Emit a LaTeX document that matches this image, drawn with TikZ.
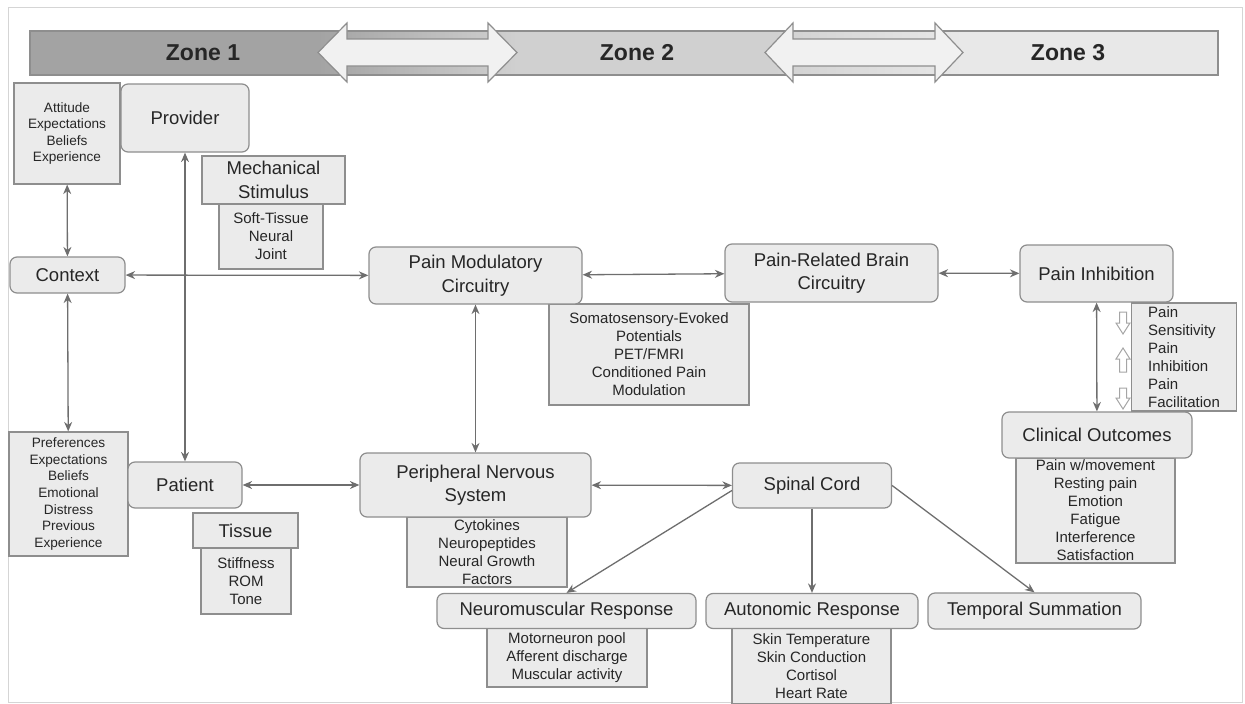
\documentclass[tikz,border=0pt]{standalone}
\usepackage{fontspec}
\setmainfont{Liberation Sans}
\usetikzlibrary{arrows.meta}
\definecolor{boxfill}{HTML}{EBEBEB}
\definecolor{bordergray}{HTML}{8E8E8E}
\definecolor{txt}{HTML}{262626}
\definecolor{linegray}{HTML}{6E6E6E}
\definecolor{zoneA}{HTML}{A3A3A3}
\definecolor{zoneB}{HTML}{D0D0D0}
\definecolor{zoneC}{HTML}{E8E8E8}
\definecolor{framegray}{HTML}{D5D5D5}
\begin{document}
\begin{tikzpicture}[x=1pt,y=-1pt,
  mainbox/.style={draw=bordergray, fill=boxfill, rounded corners=7pt, line width=1.2pt, inner sep=0pt, align=center, text=txt, font=\fontsize{18.5}{23.5}\selectfont},
  listbox/.style={draw=bordergray, fill=boxfill, line width=1.2pt, inner sep=0pt, align=center, text=txt, font=\fontsize{15}{18}\selectfont},
  smallbox/.style={listbox, font=\fontsize{13.6}{16.6}\selectfont},
  headbox/.style={listbox, font=\fontsize{18.5}{23.5}\selectfont},
  conn/.style={draw=linegray, line width=1.3pt, {Stealth[length=9.5pt,width=8pt]}-{Stealth[length=9.5pt,width=8pt]}},
  connone/.style={draw=linegray, line width=1.3pt, -{Stealth[length=9.5pt,width=8pt]}},
  bigarrow/.style={draw=bordergray, fill=zoneC!60!white, line width=1.2pt, line join=miter},
  openarrow/.style={draw=bordergray!80, fill=white, line width=1pt},
  zonetext/.style={font=\fontsize{23}{27}\selectfont\bfseries, text=black!85}
]
\useasboundingbox (0,0) rectangle (1245,704);
\draw[framegray, line width=1pt] (8,7) rectangle (1242,702);

% zone banner
\fill[zoneA] (30,31) rectangle (318,75);
\shade[left color=zoneA, right color=zoneB] (318,31) rectangle (517,75);
\fill[zoneB] (517,31) rectangle (765,75);
\shade[left color=zoneB, right color=zoneC] (765,31) rectangle (963,75);
\fill[zoneC] (963,31) rectangle (1218,75);
\draw[bordergray, line width=1.2pt] (30,31) rectangle (1218,75);
\draw[bigarrow] (318,52.5) -- (347,23) -- (347,39) -- (488,39) -- (488,23) -- (517,52.5) -- (488,82) -- (488,66) -- (347,66) -- (347,82) -- cycle;
\draw[bigarrow] (765,52.5) -- (793,23) -- (793,39) -- (935,39) -- (935,23) -- (963,52.5) -- (935,82) -- (935,66) -- (793,66) -- (793,82) -- cycle;
\node[zonetext] (z1) at (203,53) {Zone 1};
\node[zonetext] (z2) at (637,53) {Zone 2};
\node[zonetext] (z3) at (1068,53) {Zone 3};

% Zone 1 nodes
\node[smallbox, minimum width=106, minimum height=101] (att) at (67,133.5) {Attitude\\Expectations\\Beliefs\\Experience};
\node[mainbox, minimum width=128, minimum height=68] (prov) at (185,118) {Provider};
\node[listbox, minimum width=104, minimum height=65] (soft) at (271,236.5) {Soft-Tissue\\Neural\\Joint};
\node[headbox, minimum width=143, minimum height=48] (mech) at (273.5,180) {Mechanical\\Stimulus};
\node[mainbox, minimum width=115, minimum height=36] (ctx) at (67.5,275) {Context};
\node[smallbox, minimum width=119, minimum height=124] (pref) at (68.5,494) {Preferences\\Expectations\\Beliefs\\Emotional\\Distress\\Previous\\Experience};
\node[mainbox, minimum width=114, minimum height=46] (pat) at (185,485) {Patient};
\node[listbox, minimum width=90, minimum height=66] (stif) at (246,581) {Stiffness\\ROM\\Tone};
\node[headbox, minimum width=105, minimum height=35] (tis) at (245.5,530.5) {Tissue};

% Zone 2 nodes
\node[listbox, minimum width=200, minimum height=101] (som) at (649,354.5) {Somatosensory-Evoked\\Potentials\\PET/FMRI\\Conditioned Pain\\Modulation};
\node[mainbox, minimum width=213, minimum height=57] (pmc) at (475.5,275.5) {Pain Modulatory\\Circuitry};
\node[mainbox, minimum width=213, minimum height=58] (prb) at (831.5,273) {Pain-Related Brain\\Circuitry};
\node[listbox, minimum width=160, minimum height=70] (cyt) at (487,552) {Cytokines\\Neuropeptides\\Neural Growth\\Factors};
\node[mainbox, minimum width=231, minimum height=64] (pns) at (475.5,485) {Peripheral Nervous\\System};
\node[mainbox, minimum width=159, minimum height=45] (sc) at (812,485.5) {Spinal Cord};
\node[listbox, minimum width=160, minimum height=59] (mot) at (567,657.5) {Motorneuron pool\\Afferent discharge\\Muscular activity};
\node[mainbox, minimum width=259, minimum height=35] (nm) at (566.5,611) {Neuromuscular Response};
\node[listbox, minimum width=159, minimum height=76] (al) at (811.5,666) {Skin Temperature\\Skin Conduction\\Cortisol\\Heart Rate};
\node[mainbox, minimum width=212, minimum height=35] (ar) at (812,611) {Autonomic Response};
\node[mainbox, minimum width=213, minimum height=36] (ts) at (1034.5,611) {Temporal Summation};

% Zone 3 nodes
\node[mainbox, minimum width=153, minimum height=57] (pi) at (1096.5,273.5) {Pain Inhibition};
\node[listbox, align=left, minimum width=105, minimum height=108] (psens) at (1184,357) {Pain\\Sensitivity\\Pain\\Inhibition\\Pain\\Facilitation};
\node[listbox, minimum width=159, minimum height=105] (col) at (1095.5,510.5) {Pain w/movement\\Resting pain\\Emotion\\Fatigue\\Interference\\Satisfaction};
\node[mainbox, minimum width=190, minimum height=46] (co) at (1097,435) {Clinical Outcomes};

% open indicator arrows
\draw[openarrow] (1119.5,312) -- (1126.5,312) -- (1126.5,323) -- (1130,323) -- (1123,334) -- (1116,323) -- (1119.5,323) -- cycle;
\draw[openarrow] (1123,348) -- (1130,359) -- (1126.5,359) -- (1126.5,372) -- (1119.5,372) -- (1119.5,359) -- (1116,359) -- cycle;
\draw[openarrow] (1119.5,388) -- (1126.5,388) -- (1126.5,398) -- (1130,398) -- (1123,409) -- (1116,398) -- (1119.5,398) -- cycle;

% connectors
\draw[conn] (att) -- (ctx);
\draw[conn] (ctx) -- (pref);
\draw[conn] (prov) -- (pat);
\draw[conn] (ctx) -- (pmc);
\draw[conn] (pmc) -- (prb);
\draw[conn] (prb) -- (pi);
\draw[conn] (pi) -- (co);
\draw[conn] (pmc) -- (pns);
\draw[conn] (pat) -- (pns);
\draw[conn] (pns) -- (sc);
\draw[connone] ([yshift=-5pt]sc.west) -- (nm.north);
\draw[connone] (sc) -- (ar);
\draw[connone] (sc.east) -- (ts.north);
\end{tikzpicture}
\end{document}
